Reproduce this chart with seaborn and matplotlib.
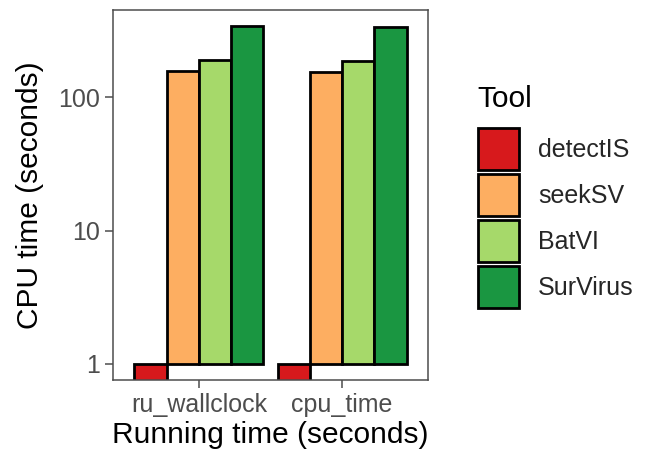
import matplotlib
matplotlib.use("Agg")
import matplotlib.pyplot as plt
import seaborn as sns
import pandas as pd
from matplotlib.patches import Patch

metrics = ["ru_wallclock", "cpu_time"]
tools = ["detectIS", "seekSV", "BatVI", "SurVirus"]
ru_wallclock = [0.5, 157, 189, 340]
cpu_time = [0.5, 154, 185, 333]
colors = ["#D7191C", "#FDAE61", "#A6D96A", "#1A9641"]

rows = []
for t, a, b in zip(tools, ru_wallclock, cpu_time):
    rows.append({"metric": "ru_wallclock", "Tool": t, "value": a})
    rows.append({"metric": "cpu_time", "Tool": t, "value": b})
df = pd.DataFrame(rows)

sns.set_theme(style="white")
plt.rcParams["font.family"] = ["Liberation Sans", "DejaVu Sans"]

fig = plt.figure(figsize=(6.47, 4.61), dpi=100)
ax = fig.add_axes([113 / 647, 1 - 380 / 461, 315 / 647, 370 / 461])

sns.barplot(data=df, x="metric", y="value", hue="Tool", order=metrics,
            hue_order=tools, palette=colors, width=0.9, errorbar=None,
            edgecolor="black", linewidth=2.0, saturation=1, ax=ax, legend=False)

ax.set_yscale("log")
for p in ax.patches:
    h = p.get_height()
    p.set_y(1)
    p.set_height(h - 1)

ax.set_ylim(10 ** -0.12, 10 ** 2.652)
ax.set_xlim(-0.6, 1.6)
ax.set_yticks([1, 10, 100])
ax.set_yticklabels(["1", "10", "100"])
ax.minorticks_off()
ax.tick_params(axis="both", colors="#4d4d4d", labelsize=18, length=5.5, width=1.1,
               direction="out", left=True, bottom=True, pad=4)
for lab in ax.get_xticklabels() + ax.get_yticklabels():
    lab.set_color("#4d4d4d")
for s in ax.spines.values():
    s.set_color("#4d4d4d")
    s.set_linewidth(1.1)
ax.set_xlabel("Running time (seconds)", fontsize=21.5, color="black", labelpad=3)
ax.set_ylabel("CPU time (seconds)", fontsize=21.5, color="black", labelpad=10)
ax.grid(False)

fig.text(477 / 647, 1 - 107 / 461, "Tool", fontsize=21.5, color="black",
         ha="left", va="baseline")
handles = [Patch(facecolor=c, edgecolor="black", linewidth=2.0, label=t)
           for c, t in zip(colors, tools)]
leg = fig.legend(handles=handles, loc="upper left",
                 bbox_to_anchor=(478 / 647, 1 - 128 / 461), frameon=False,
                 fontsize=18, handlelength=1.62,
                 handleheight=2.21, labelspacing=0.16, handletextpad=0.78,
                 borderaxespad=0, borderpad=0)

fig.savefig("out.png", dpi=100)
